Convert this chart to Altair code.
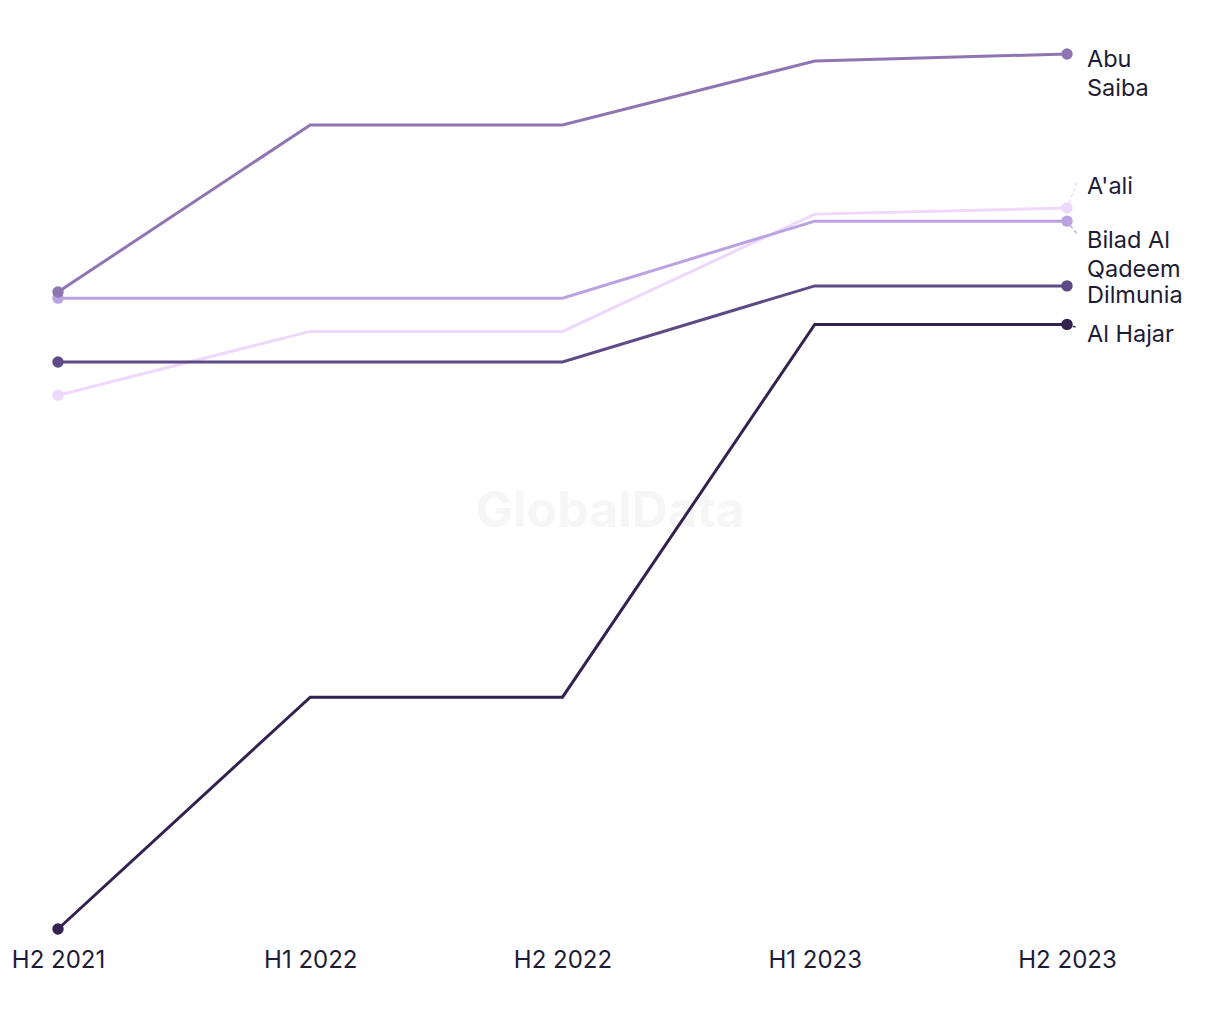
import altair as alt
import pandas as pd

periods = ["H2 2021", "H1 2022", "H2 2022", "H1 2023", "H2 2023"]

# drawing order: lightest first
series = ["A'ali", "Bilad Al Qadeem", "Abu Saiba", "Dilmunia", "Al Hajar"]

values = {
    "Abu Saiba":       [72.8, 91.9, 91.9, 99.2, 100.0],
    "Bilad Al Qadeem": [72.1, 72.1, 72.1, 80.9, 80.9],
    "A'ali":           [61.0, 68.3, 68.3, 81.7, 82.4],
    "Dilmunia":        [64.8, 64.8, 64.8, 73.5, 73.5],
    "Al Hajar":        [0.0, 26.5, 26.5, 69.1, 69.1],
}

colors = {
    "Abu Saiba": "#8f76b3",
    "Bilad Al Qadeem": "#bba3e2",
    "A'ali": "#eed8fb",
    "Dilmunia": "#5e4a84",
    "Al Hajar": "#33214f",
}

label_text = {
    "Abu Saiba": "Abu\nSaiba",
    "Bilad Al Qadeem": "Bilad Al\nQadeem",
    "A'ali": "A'ali",
    "Dilmunia": "Dilmunia",
    "Al Hajar": "Al Hajar",
}
# first-line position of each label (data units) after de-overlapping
label_pos = {
    "Abu Saiba": 99.3,
    "Bilad Al Qadeem": 78.6,
    "A'ali": 84.8,
    "Dilmunia": 72.4,
    "Al Hajar": 67.9,
}
# leader-line end (data units)
leader_end = {
    "A'ali": 85.6,
    "Bilad Al Qadeem": 79.3,
    "Al Hajar": 68.7,
}

TEXT = "#1d1b35"
FONT = "Inter"

rows = []
for s in series:
    for p, v in zip(periods, values[s]):
        rows.append({"series": s, "period": p, "value": v})
df = pd.DataFrame(rows)

xscale = alt.Scale(domain=periods, type="point", padding=0)
yscale = alt.Scale(domain=[0, 100], nice=False, zero=False)

x_axis = alt.Axis(title=None, labelAngle=0, domain=False, ticks=False,
                  grid=False, labelFontSize=24, labelColor=TEXT,
                  labelFont=FONT, labelPadding=19)
x_enc = alt.X("period:N", scale=xscale, sort=periods, axis=x_axis)
y_enc = alt.Y("value:Q", scale=yscale, axis=None)

watermark = alt.Chart(pd.DataFrame({"t": ["GlobalData"]})).mark_text(
    font=FONT, fontSize=50, fontWeight="bold", color="#f6f6f6",
    align="center", baseline="middle"
).encode(text="t:N", x=alt.value(552), y=alt.value(458))

layers = [watermark]
for s in series:
    d = df[df.series == s]
    line = alt.Chart(d).mark_line(color=colors[s], strokeWidth=3).encode(
        x=x_enc, y=y_enc)
    ends = d[d.period.isin([periods[0], periods[-1]])]
    pts = alt.Chart(ends).mark_point(filled=True, opacity=1, size=130,
                                     color=colors[s]).encode(x=x_enc, y=y_enc)
    layers += [line, pts]

# leader lines
lead = pd.DataFrame([
    {"series": s, "period": periods[-1], "value": values[s][-1], "end": leader_end[s]}
    for s in leader_end
])
for s in leader_end:
    ld = lead[lead.series == s]
    layers.append(alt.Chart(ld).mark_rule(
        color=colors[s], strokeWidth=1.5, strokeDash=[3, 3], x2Offset=11
    ).encode(x=x_enc, x2="period:N", y=y_enc, y2="end:Q"))

labels = pd.DataFrame([
    {"series": s, "period": periods[-1], "value": label_pos[s], "label": label_text[s]}
    for s in series
])
layers.append(alt.Chart(labels).mark_text(
    align="left", baseline="middle", dx=20, fontSize=23.5, font=FONT,
    color=TEXT, lineBreak="\n", lineHeight=29
).encode(x=x_enc, y=y_enc, text="label:N"))

chart = alt.layer(*layers).properties(
    width=1009, height=875,
    background="white",
    autosize=alt.AutoSizeParams(type="none"),
    padding={"left": 58, "top": 54, "right": 153, "bottom": 91},
).configure_view(strokeWidth=0)

chart.save("out.html", embed_options={"renderer": "svg", "actions": False})
